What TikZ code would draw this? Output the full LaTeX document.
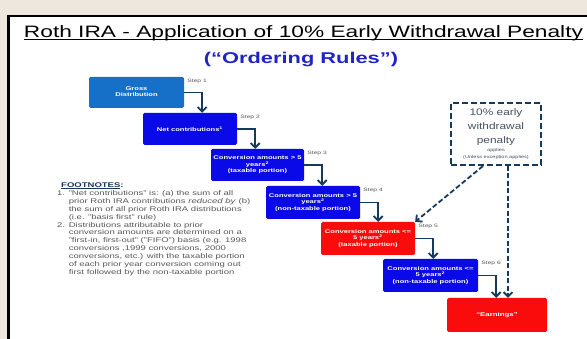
\documentclass[tikz,border=0pt]{standalone}
\usepackage{fontspec}
\setmainfont{Liberation Sans}
\usetikzlibrary{arrows.meta}
\definecolor{bgbeige}{RGB}{237,231,222}
\definecolor{boxone}{RGB}{22,112,200}
\definecolor{boxblue}{RGB}{10,10,232}
\definecolor{boxred}{RGB}{250,12,12}
\definecolor{navy}{RGB}{22,58,92}
\definecolor{subblue}{RGB}{32,36,200}
\definecolor{fngrey}{RGB}{88,88,88}
\definecolor{fnnavy}{RGB}{30,50,95}
\definecolor{pentext}{RGB}{70,82,98}
\newcommand{\sx}[2][1.4]{\scalebox{#1}[1]{#2}}
\newcommand{\lines}[1]{\begin{tabular}{@{}c@{}}#1\end{tabular}}
\newcommand{\ulin}[3]{\setbox0=\hbox{#3}\rlap{\rule[-#1]{\wd0}{#2}}\box0}
\begin{document}
\begin{tikzpicture}[x=1pt,y=-1pt,
  stepbox/.style={draw=none, rounded corners=1.5pt, inner sep=0pt, text=white,
    font=\fontsize{5.4}{6.3}\selectfont\bfseries},
  arr/.style={draw=navy, line width=1.8pt, line join=miter, -{Straight Barb[length=4.5pt,width=9pt]}},
  darr/.style={arr, dash pattern=on 5pt off 2.5pt},
  steplbl/.style={anchor=west, inner sep=0pt, text=fngrey, font=\fontsize{4.8}{5}\selectfont},
]
\useasboundingbox (0,0) rectangle (587,339);
\clip (0,0) rectangle (587,339);
\fill[bgbeige] (0,0) rectangle (587,339);
\draw[fill=white, line width=2.5pt] (8.5,16) rectangle (600,350);

% title
\node[anchor=base, inner sep=0pt, font=\fontsize{16.5}{19}\selectfont] (title) at (303.5,37.5)
  {\sx[1.376]{\ulin{2.9pt}{0.9pt}{Roth IRA - Application of 10\% Early Withdrawal Penalty}}};
\node[anchor=base, inner sep=0pt, text=subblue, font=\fontsize{15.6}{18}\selectfont\bfseries] (sub) at (301,63.5)
  {\sx{(“Ordering Rules”)}};

% boxes
\node[stepbox, fill=boxone, minimum width=95pt, minimum height=31pt] (b1) at (136.5,92.5)
  {\sx{\lines{Gross\\Distribution}}};
\node[stepbox, fill=boxblue, minimum width=94pt, minimum height=32pt] (b2) at (190,129)
  {\sx{Net contributions\textsuperscript{1}}};
\node[stepbox, fill=boxblue, minimum width=93pt, minimum height=32pt] (b3) at (257.5,165)
  {\sx{\lines{Conversion amounts > 5\\years\textsuperscript{2}\\(taxable portion)}}};
\node[stepbox, fill=boxblue, minimum width=94pt, minimum height=33pt] (b4) at (313,202.5)
  {\sx{\lines{Conversion amounts > 5\\years\textsuperscript{2}\\(non-taxable portion)}}};
\node[stepbox, fill=boxred, minimum width=94pt, minimum height=33pt] (b5) at (368,238.5)
  {\sx{\lines{Conversion amounts <=\\5 years\textsuperscript{2}\\(taxable portion)}}};
\node[stepbox, fill=boxblue, minimum width=95pt, minimum height=33pt] (b6) at (430.5,275.5)
  {\sx{\lines{Conversion amounts <=\\5 years\textsuperscript{2}\\(non-taxable portion)}}};
\node[stepbox, fill=boxred, minimum width=100pt, minimum height=34pt,
  font=\fontsize{5.6}{6.4}\selectfont\bfseries] (b7) at (497,315)
  {\sx{“Earnings”}};

% step labels
\foreach \b/\s in {b1/1,b2/2,b3/3,b4/4,b5/5,b6/6}{
  \node[steplbl] (lbl\s) at ([xshift=3pt,yshift=-4.5pt]\b.north east) {\sx{Step \s}};
}

% step arrows
\foreach \a/\b in {b1/b2,b2/b3,b3/b4,b4/b5,b5/b6,b6/b7}{
  \coordinate (t\a) at ([xshift=18pt]\a.east);
  \draw[arr] (\a.east) -| (t\a |- \b.north);
}

% penalty box
\node[draw=navy, line width=2pt, dash pattern=on 6pt off 3pt, minimum width=90pt,
  minimum height=62pt, inner sep=0pt] (pen) at (496,134) {};
\node[inner sep=0pt, text=pentext, font=\fontsize{9.5}{14}\selectfont] (pentxt) at (496,127)
  {\sx[1.25]{\lines{10\% early\\withdrawal\\penalty}}};
\node[inner sep=0pt, text=pentext, font=\fontsize{4.3}{7}\selectfont] (pensmall) at (496,153.5)
  {\sx[1.3]{\lines{applies\\(Unless exception applies)}}};
\coordinate (p1) at ([xshift=-13pt]pen.south);
\coordinate (p2) at ([xshift=12pt]pen.south);
\draw[darr] (p1) -- (b5.north east);
\draw[darr] (p2) -- (p2 |- b7.north);

% footnotes
\node[anchor=base west, inner sep=0pt, text=fnnavy, font=\fontsize{6.8}{8}\selectfont\bfseries] (fnh) at (61,187.5)
  {\sx{\ulin{1.5pt}{0.5pt}{FOOTNOTES}:}};
\node[anchor=base west, inner sep=0pt, text=fngrey, font=\fontsize{6.8}{7.9}\selectfont] (fn) at (57,195.5)
  {\sx{\begin{tabular}[t]{@{}r@{\hspace{2.6pt}}l@{}}
1. & "Net contributions" is: (a) the sum of all\\
 & prior Roth IRA contributions \textit{reduced by} (b)\\
 & the sum of all prior Roth IRA distributions\\
 & (i.e. "basis first" rule)\\
2. & Distributions attributable to prior\\
 & conversion amounts are determined on a\\
 & "first-in, first-out" ("FIFO") basis (e.g. 1998\\
 & conversions ,1999 conversions, 2000\\
 & conversions, etc.) with the taxable portion\\
 & of each prior year conversion coming out\\
 & first followed by the non-taxable portion
\end{tabular}}};
\end{tikzpicture}
\end{document}
